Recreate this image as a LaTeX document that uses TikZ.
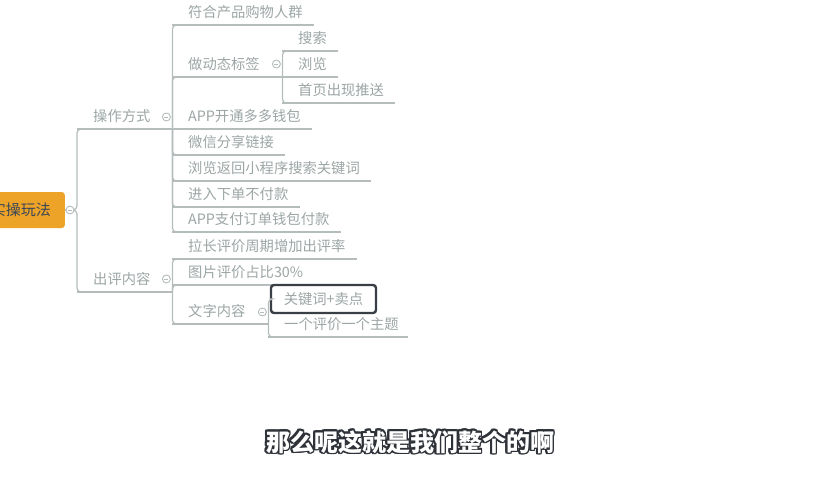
\documentclass[tikz,border=0pt]{standalone}
\usepackage{fontspec}
\newfontfamily\cjk{Noto Sans CJK SC}
\usetikzlibrary{calc}
\definecolor{lineg}{HTML}{B4BCBC}
\definecolor{txtg}{HTML}{9CA5A5}
\definecolor{rootor}{HTML}{EDA328}
\definecolor{roottx}{HTML}{3A4656}
\definecolor{selb}{HTML}{3A3F46}
\definecolor{subdark}{HTML}{2E3238}
\newcommand\mmpad[2][11pt]{\hspace*{16pt}#2\hspace*{#1}}
\begin{document}
\begin{tikzpicture}[x=1pt,y=-1pt,
  topic/.style={inner sep=0pt, text height=12pt, text depth=7.5pt, anchor=south west,
    text=txtg, font=\cjk\fontsize{14.3pt}{16pt}\selectfont},
  ul/.style={draw=lineg, line width=1.2pt},
  br/.style={draw=lineg, line width=1.2pt, rounded corners=4pt},
  fold/.style={circle, draw=lineg, fill=white, line width=0.9pt, minimum size=8pt, inner sep=0pt,
    path picture={\draw[lineg, line width=0.8pt]
      ([xshift=-2pt]path picture bounding box.center) -- ([xshift=2pt]path picture bounding box.center);}},
  rootbox/.style={fill=rootor, rounded corners=3pt, minimum height=36pt, inner xsep=14pt,
    text=roottx, font=\cjk\fontsize{15pt}{17pt}\selectfont},
  selbox/.style={draw=selb, line width=2.4pt, rounded corners=3pt, fill=white,
    minimum width=105pt, minimum height=28pt, inner sep=0pt,
    text=txtg, font=\cjk\fontsize{14.3pt}{16pt}\selectfont},
  subt/.style={font=\cjk\bfseries\fontsize{24pt}{26pt}\selectfont, inner sep=0pt}
]
\useasboundingbox (0,0) rectangle (820,480);

% root
\node[rootbox, anchor=east] (root) at (65,210) {实操玩法};

% level 1
\node[topic] (op) at (77,129) {\mmpad[21.8pt]{操作方式}};
\node[topic] (cp) at (77,292) {\mmpad[21.8pt]{出评内容}};

% branch 1 children
\node[topic] (f1) at (172,25)  {\mmpad{符合产品购物人群}};
\node[topic] (f2) at (172,77)  {\mmpad[22.5pt]{做动态标签}};
\node[topic] (f3) at (172,129) {\mmpad{APP开通多多钱包}};
\node[topic] (f4) at (172,155) {\mmpad{微信分享链接}};
\node[topic] (f5) at (172,181) {\mmpad{浏览返回小程序搜索关键词}};
\node[topic] (f6) at (172,207) {\mmpad{进入下单不付款}};
\node[topic] (f7) at (172,232) {\mmpad{APP支付订单钱包付款}};

% sub of 做动态标签
\node[topic] (s1) at (282,51)  {\mmpad{搜索}};
\node[topic] (s2) at (282,77)  {\mmpad{浏览}};
\node[topic] (s3) at (282,103) {\mmpad{首页出现推送}};

% branch 2 children
\node[topic] (g1) at (172,259) {\mmpad{拉长评价周期增加出评率}};
\node[topic] (g2) at (172,285) {\mmpad{图片评价占比30\%}};
\node[topic] (g3) at (172,324) {\mmpad[22.8pt]{文字内容}};
\node[topic] (y1) at (268,337) {\mmpad[9pt]{一个评价一个主题}};

% underlines
\foreach \n in {op,cp,f1,f2,f3,f4,f5,f6,f7,s1,s2,s3,g1,g2,g3,y1}
  \draw[ul] (\n.south west) -- (\n.south east);

% connectors
\draw[br] (root.east) -- ++(12,0) |- ([shift={(6,0)}]op.south west);
\draw[br] (root.east) -- ++(12,0) |- ([shift={(6,0)}]cp.south west);
\foreach \c in {f1,f2,f4,f5,f6,f7}
  \draw[br] (op.south east) |- ([shift={(6,0)}]\c.south west);
\draw[ul] (op.south east) -- (f3.south west);
\foreach \c in {s1,s3}
  \draw[br] (f2.south east) |- ([shift={(6,0)}]\c.south west);
\draw[ul] (f2.south east) -- (s2.south west);
\foreach \c in {g1,g2,g3}
  \draw[br] (cp.south east) |- ([shift={(6,0)}]\c.south west);
\draw[br] (g3.south east) |- ([shift={(6,0)}]y1.south west);

% selected topic
\node[selbox] (kw) at (323.5,299) {关键词+卖点};
\draw[br] (g3.south east) -- (kw.west -| g3.south east) -- (kw.west);

% fold markers
\node[fold] (rootf) at ([shift={(5,0)}]root.east) {};
\node[fold] (opf) at ([shift={(-6,-12)}]op.south east) {};
\node[fold] (cpf) at ([shift={(-6,-13)}]cp.south east) {};
\node[fold] (f2f) at ([shift={(-6,-13)}]f2.south east) {};
\node[fold] (g3f) at ([shift={(-6,-12)}]g3.south east) {};

% subtitle
\foreach \a [count=\i] in {0,22.5,...,337.5}
  \node[subt, text=subdark] (subo\i) at ([shift={(\a:1.8pt)}]410,442) {那么呢这就是我们整个的啊};
\node[subt, text=white] (sub) at (410,442) {那么呢这就是我们整个的啊};
\end{tikzpicture}
\end{document}
